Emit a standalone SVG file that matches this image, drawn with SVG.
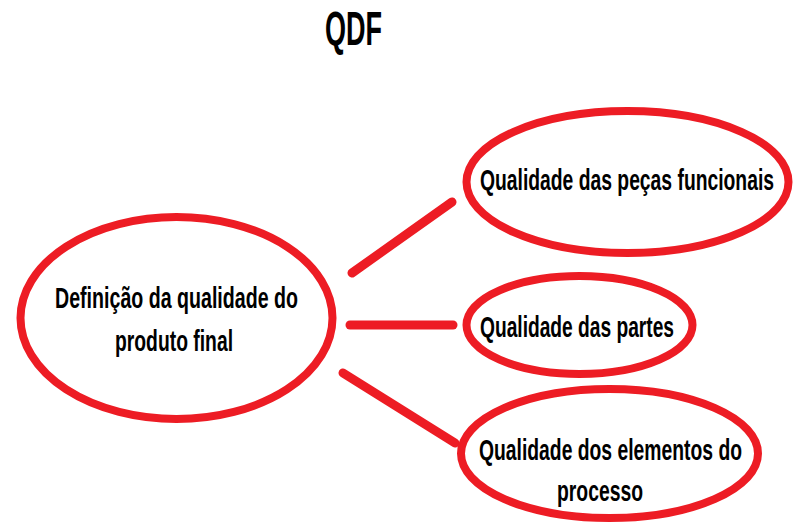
<svg xmlns="http://www.w3.org/2000/svg" width="796" height="526" viewBox="0 0 796 526">
<style>
.node{fill:#fff;stroke:#ED1C24;stroke-width:8}
.lbl{font-family:"Liberation Sans",Arial,sans-serif;font-weight:bold;font-size:30px;fill:#000}
.edge{stroke:#ED1C24;stroke-width:9;stroke-linecap:round;fill:none}
</style>
<rect width="796" height="526" fill="#fff"/>
<text class="lbl" x="325" y="45" style="font-size:48px" textLength="57" lengthAdjust="spacingAndGlyphs">QDF</text>
<g id="connectors">
<line class="edge" x1="352" y1="273" x2="452" y2="202"/>
<line class="edge" x1="350" y1="325" x2="453" y2="325"/>
<line class="edge" x1="343" y1="373" x2="455" y2="443"/>
</g>
<g id="node-definicao">
<ellipse class="node" cx="176.5" cy="318" rx="156" ry="101"/>
<text class="lbl" x="55" y="308" textLength="243" lengthAdjust="spacingAndGlyphs">Definição da qualidade do</text>
<text class="lbl" x="115" y="351" textLength="118" lengthAdjust="spacingAndGlyphs">produto final</text>
</g>
<g id="node-pecas">
<ellipse class="node" cx="627.5" cy="182" rx="161" ry="71"/>
<text class="lbl" x="480" y="190" textLength="294" lengthAdjust="spacingAndGlyphs">Qualidade das peças funcionais</text>
</g>
<g id="node-partes">
<ellipse class="node" cx="579.5" cy="325" rx="113" ry="49"/>
<text class="lbl" x="480" y="337" textLength="194" lengthAdjust="spacingAndGlyphs">Qualidade das partes</text>
</g>
<g id="node-processo">
<ellipse class="node" cx="609.5" cy="453.5" rx="148.5" ry="64.5"/>
<text class="lbl" x="479" y="460" textLength="263" lengthAdjust="spacingAndGlyphs">Qualidade dos elementos do</text>
<text class="lbl" x="557" y="501" textLength="86" lengthAdjust="spacingAndGlyphs">processo</text>
</g>
</svg>
